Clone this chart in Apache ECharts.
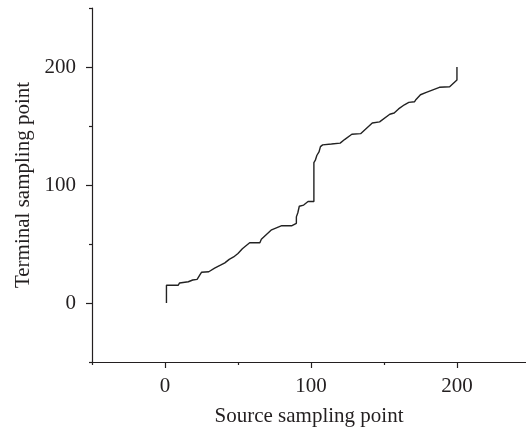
<!DOCTYPE html>
<html>
<head>
<meta charset="utf-8">
<script src="https://cdn.jsdelivr.net/npm/echarts@6/dist/echarts.min.js"></script>
<style>
  html, body { margin: 0; padding: 0; background: #fff; }
  #chart { width: 526px; height: 436px; }
</style>
</head>
<body>
<div id="chart"></div>
<script>
// Warping path: source sampling point vs matched terminal sampling point
const sourcePoints = [1, 1, 9, 10, 16, 19, 22, 24, 25, 30, 34, 38, 41, 44, 47, 50, 53, 58, 65, 66, 73, 80, 87, 90, 90, 91, 92, 95, 98, 102, 102, 103, 104, 105.5, 106.5, 108, 114, 120, 123, 128, 134, 142, 147, 154, 157, 160, 164, 167, 171, 172, 175, 179, 188, 195, 200, 200];
const terminalPoints = [0, 15, 15, 17, 18, 19.5, 20, 24, 26, 26.5, 29.5, 32, 34, 37, 39, 42, 46, 51, 51, 54, 62, 65.5, 65.5, 67.5, 73, 76.5, 82, 83, 86, 86, 119, 121, 125, 128, 132.5, 134, 134.7, 135.5, 138.5, 143, 143.5, 152.5, 153.5, 160, 161, 164.5, 168, 170, 170.6, 172.5, 176.5, 178.5, 182.8, 183.3, 189, 200];

const majorTicks = [0, 100, 200];
const minorTicks = [-50, 50, 150, 250];
const xMin = -50;
const xMax = 247.3;   // x axis runs off the right edge of the page
const yMin = -50;
const yMax = 250;

const FONT = '"Liberation Serif", "DejaVu Serif", serif';
const FONT_SIZE = 21;
const INK = '#231f20';

const pathData = sourcePoints.map((x, i) => [x, terminalPoints[i]]);

function majorAxis(extra) {
  return Object.assign({
    type: 'value',
    splitLine: { show: false },
    axisLine: { show: true, onZero: false, lineStyle: { color: INK, width: 1.2 } },
    axisTick: { show: true, length: 6, customValues: majorTicks, lineStyle: { color: INK, width: 1.2 } },
    nameTextStyle: { color: INK, fontFamily: FONT, fontSize: FONT_SIZE }
  }, extra);
}

function minorAxis(extra) {
  return Object.assign({
    type: 'value',
    splitLine: { show: false },
    axisLine: { show: false, onZero: false },
    axisTick: { show: true, length: 3, customValues: minorTicks, lineStyle: { color: INK, width: 1.2 } },
    axisLabel: { show: false }
  }, extra);
}

const chart = echarts.init(document.getElementById('chart'), null, { renderer: 'canvas' });
chart.setOption({
  animation: false,
  backgroundColor: '#fff',
  grid: { left: 92, top: 8, right: 0, bottom: 74, containLabel: false },
  xAxis: [
    majorAxis({
      min: xMin,
      max: xMax,
      position: 'bottom',
      name: 'Source sampling point',
      nameLocation: 'middle',
      nameGap: 44,
      axisLabel: { show: true, customValues: majorTicks, color: INK, fontFamily: FONT, fontSize: FONT_SIZE, margin: 14 }
    }),
    minorAxis({ min: xMin, max: xMax, position: 'bottom', axisTick: { show: true, length: 3, customValues: minorTicks.slice(0, 3), lineStyle: { color: INK, width: 1.2 } } })
  ],
  yAxis: [
    majorAxis({
      min: yMin,
      max: yMax,
      position: 'left',
      name: 'Terminal sampling point',
      nameLocation: 'middle',
      nameGap: 57,
      axisLabel: { show: true, customValues: majorTicks, color: INK, fontFamily: FONT, fontSize: FONT_SIZE, margin: 16 }
    }),
    minorAxis({ min: yMin, max: yMax, position: 'left' })
  ],
  series: [{
    type: 'line',
    xAxisIndex: 0,
    yAxisIndex: 0,
    data: pathData,
    showSymbol: false,
    symbol: 'none',
    lineStyle: { color: '#222', width: 1.4 },
    silent: true
  }]
});
</script>
</body>
</html>
